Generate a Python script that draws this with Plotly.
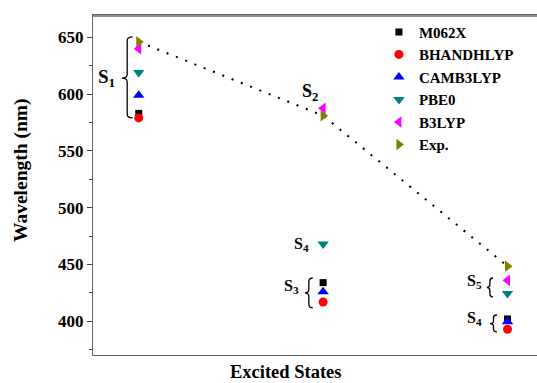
import plotly.graph_objects as go

states = [1, 2, 3]
exp = [646, 581, 448.5]

series = [
    ("M062X", [1, 2, 3], [583, 434, 402], "square", "black", 7),
    ("BHANDHLYP", [1, 2, 3], [579, 417, 393], "circle", "red", 9),
    ("CAMB3LYP", [1, 2, 3], [599, 426, 399.5], "triangle-up", "blue", 10),
    ("PBE0", [1, 2, 3], [619, 468, 424.5], "triangle-down", "#008080", 10),
    ("B3LYP", [1, 2, 3], [640, 587.5, 436], "triangle-left", "#FF00FF", 10),
    ("Exp.", states, exp, "triangle-right", "#808000", 10),
]

FONT = "Liberation Serif"

fig = go.Figure()
fig.add_trace(go.Scatter(x=states, y=exp, mode="lines", showlegend=False,
                         line=dict(color="black", width=2, dash="2px,8px")))
for name, xs, ys, sym, col, sz in series:
    fig.add_trace(go.Scatter(x=xs, y=ys, mode="markers", name=name,
                             marker=dict(symbol=sym, color=col, size=sz, line=dict(width=0))))

ann = [
    (0.826, 614.2, "S<sub>1</sub>", 19),
    (1.928, 601, "S<sub>2</sub>", 18),
    (1.884, 467.2, "S<sub>4</sub>", 16),
    (1.830, 430.2, "S<sub>3</sub>", 16),
    (2.823, 434.6, "S<sub>5</sub>", 16),
    (2.823, 402, "S<sub>4</sub>", 16),
]
for x, y, t, s in ann:
    fig.add_annotation(x=x, y=y, text=t, showarrow=False, xanchor="center", yanchor="middle",
                       font=dict(family=FONT, size=s, color="black", weight="bold"))

# braces: (tip x, right x, top y, bottom y, mid y)
braces = [
    (0.908, 0.967, 650.3, 579, 614),
    (1.901, 1.944, 438.1, 411.7, 425),
    (2.888, 2.921, 438.1, 421.4, 429.8),
    (2.905, 2.943, 405.5, 390.6, 398),
]
for xt, xr, yt, yb, ym in braces:
    xm = (xt + xr) / 2
    r = min(3.5, (yt - yb) / 6)
    path = (f"M {xr},{yt} Q {xm},{yt} {xm},{yt - r} L {xm},{ym + r} Q {xm},{ym} {xt},{ym} "
            f"Q {xm},{ym} {xm},{ym - r} L {xm},{yb + r} Q {xm},{yb} {xr},{yb}")
    fig.add_shape(type="path", path=path, xref="x", yref="y", line=dict(color="black", width=1.3))

# top frame line
fig.add_shape(type="line", xref="paper", yref="paper", x0=0, x1=1, y0=0.997, y1=0.997,
              line=dict(color="#666", width=1.6), layer="above")

fig.add_annotation(xref="paper", yref="paper", x=(286 - 93) / 444, y=-(372 - 355) / 340, text="<b>Excited States</b>",
                   showarrow=False, xanchor="center", yanchor="middle", font=dict(family=FONT, size=18.5, color="black"))
fig.add_annotation(xref="paper", yref="paper", x=-(93 - 21) / 444, y=(355 - 170) / 340, text="<b>Wavelength (nm)</b>",
                   textangle=-90, showarrow=False, xanchor="center", yanchor="middle",
                   font=dict(family=FONT, size=19.5, color="black"))

fig.update_layout(
    width=537, height=383,
    margin=dict(l=93, r=0, t=15, b=28),
    paper_bgcolor="white", plot_bgcolor="white",
    font=dict(family=FONT, color="black"),
    legend=dict(x=0.644, y=0.998, xanchor="left", yanchor="top", bgcolor="rgba(0,0,0,0)",
                font=dict(family=FONT, size=15, color="black", weight="bold"), tracegroupgap=0),
    xaxis=dict(range=[0.752, 3.16], showticklabels=False, ticks="", showgrid=False, zeroline=False,
               showline=True, linecolor="#666", linewidth=1, mirror="all"),
    yaxis=dict(range=[370.3, 669.6], tickvals=[400, 450, 500, 550, 600, 650], ticks="outside", ticklen=5,
               tickcolor="#444", showgrid=False, zeroline=False, showline=True, linecolor="#666", linewidth=1,
               tickfont=dict(family=FONT, size=17, color="black", weight="bold"),
               minor=dict(tickvals=[375, 425, 475, 525, 575, 625], ticks="outside", ticklen=3, tickcolor="#444")),
)
fig.write_html("out.html", config={"displayModeBar": False},
               post_script="document.body.style.margin='0';")
